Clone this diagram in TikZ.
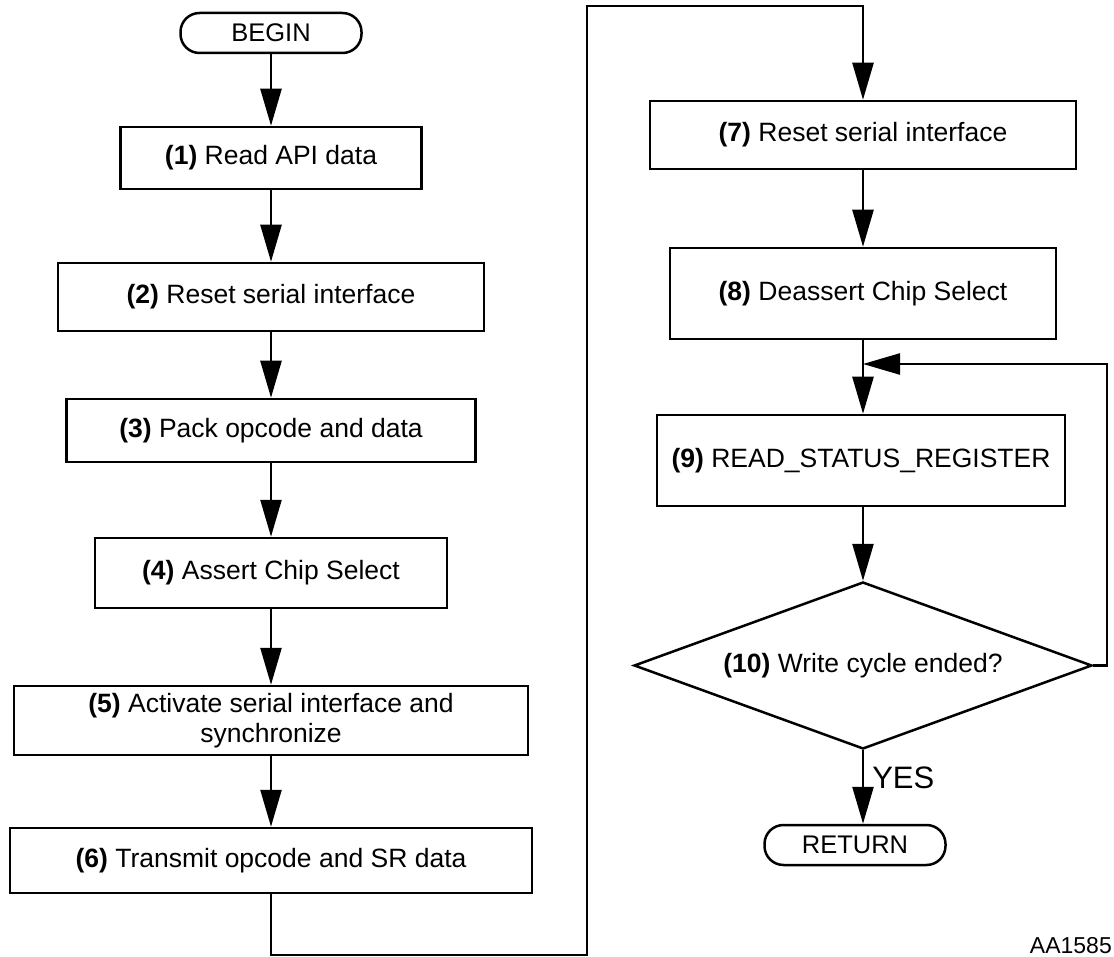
\documentclass[tikz,border=0pt]{standalone}
\usepackage{fontspec}
\setmainfont{Liberation Sans}
\usepackage{tikz}
\usetikzlibrary{shapes,arrows.meta,positioning,calc}

\tikzset{
    stepbox/.style={draw, line width=2.5pt, inner sep=0pt, align=center,
        font=\fontsize{26.5}{30}\selectfont},
    termbox/.style={draw, line width=2.5pt, rounded corners=19pt, inner sep=0pt,
        minimum width=181pt, minimum height=40pt, font=\fontsize{25.5}{28}\selectfont},
    decbox/.style={draw, diamond, aspect=2.75, line width=2.5pt, inner sep=0pt,
        minimum width=458pt, minimum height=167pt, font=\fontsize{26.5}{30}\selectfont},
    flow/.style={line width=2.5pt, -{Triangle[length=37pt,width=21pt]}},
}

\begin{document}
\begin{tikzpicture}[x=1pt,y=-1pt]
    \useasboundingbox (0,0) rectangle (1114,957);

    % left column
    \node[termbox] (begin) at (271,33) {BEGIN};
    \node[stepbox, minimum width=301pt, minimum height=62pt] (s1) at (271,158) {\textbf{(1)} Read API data};
    \node[stepbox, minimum width=426pt, minimum height=68pt] (s2) at (271,297) {\textbf{(2)} Reset serial interface};
    \node[stepbox, minimum width=409pt, minimum height=63pt] (s3) at (271,430.5) {\textbf{(3)} Pack opcode and data};
    \node[stepbox, minimum width=352pt, minimum height=70pt] (s4) at (271,573) {\textbf{(4)} Assert Chip Select};
    \node[stepbox, minimum width=514pt, minimum height=69pt] (s5) at (271,720.5) {\textbf{(5)} Activate serial interface and\\synchronize};
    \node[stepbox, minimum width=522pt, minimum height=65pt] (s6) at (271,860.5) {\textbf{(6)} Transmit opcode and SR data};

    % right column
    \node[stepbox, minimum width=426pt, minimum height=68pt] (s7) at (863,135) {\textbf{(7)} Reset serial interface};
    \node[stepbox, minimum width=386pt, minimum height=91pt] (s8) at (863,293.5) {\textbf{(8)} Deassert Chip Select};
    \node[stepbox, minimum width=408pt, minimum height=91pt] (s9) at (861,460.5) {\textbf{(9)} READ\_STATUS\_REGISTER};
    \node[decbox] (s10) at (863,665.5) {\textbf{(10)} Write cycle ended?};
    \node[termbox] (return) at (855,845) {RETURN};

    \coordinate (low) at (587,955);
    \coordinate (high) at (587,6);
    \coordinate (loop) at (1107,364);

    \draw[flow] (begin.south) -- (s1.north);
    \draw[flow] (s1.south) -- (s2.north);
    \draw[flow] (s2.south) -- (s3.north);
    \draw[flow] (s3.south) -- (s4.north);
    \draw[flow] (s4.south) -- (s5.north);
    \draw[flow] (s5.south) -- (s6.north);
    \draw[flow] (s6.south) |- (low) -- (high) -| (s7.north);
    \draw[flow] (s7.south) -- (s8.north);
    \draw[flow] (s8.south) -- (s8.south |- s9.north);
    \draw[flow] (s9.south -| s10.north) -- (s10.north);
    \draw[flow] (s10.east) -| (loop) -- (loop -| s8.south);
    \draw[flow] (s10.south) -- (s10.south |- return.north)
        node (yes) [pos=0.38, anchor=west, inner sep=0pt, xshift=8pt, font=\fontsize{31}{34}\selectfont] {YES};

    \node (tag) [anchor=base east, inner sep=0pt, font=\fontsize{23}{26}\selectfont] at (1112,953) {AA1585};
\end{tikzpicture}
\end{document}
